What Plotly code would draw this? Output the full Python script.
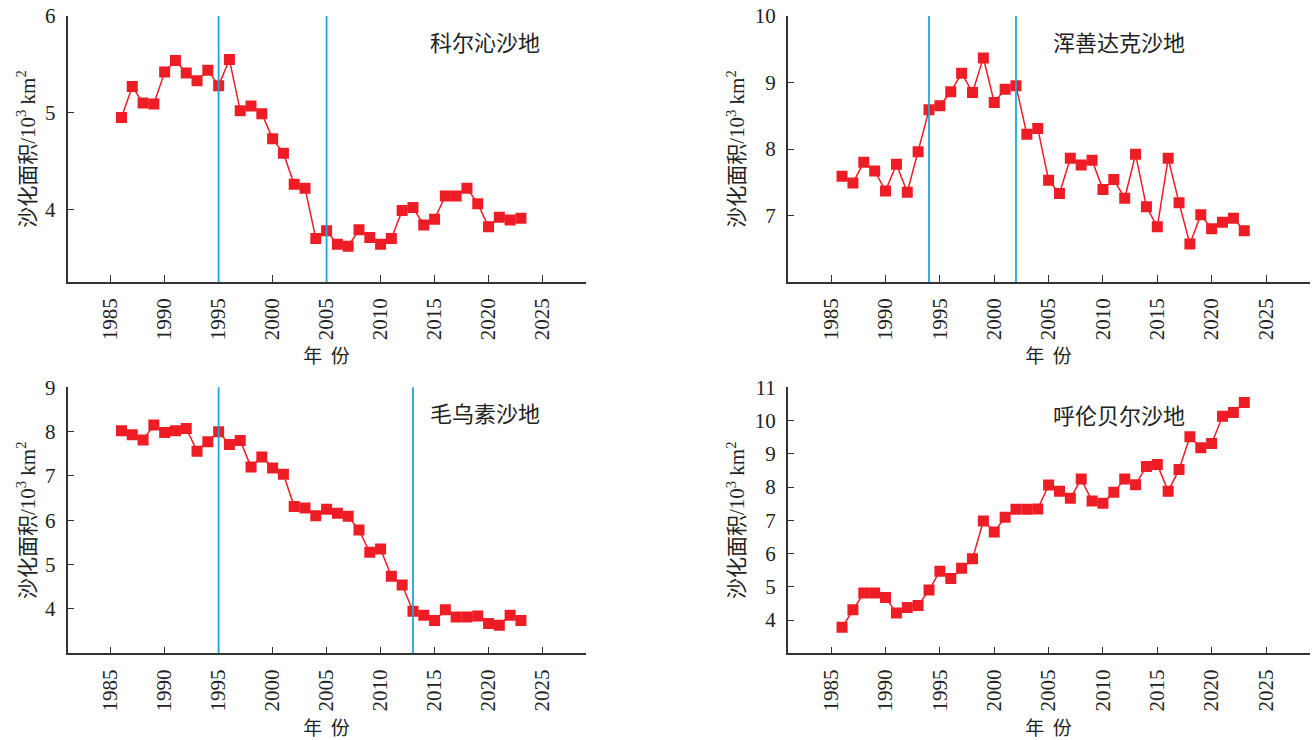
import plotly.graph_objects as go

years = [1986, 1987, 1988, 1989, 1990, 1991, 1992, 1993, 1994, 1995,
         1996, 1997, 1998, 1999, 2000, 2001, 2002, 2003, 2004, 2005,
         2006, 2007, 2008, 2009, 2010, 2011, 2012, 2013, 2014, 2015,
         2016, 2017, 2018, 2019, 2020, 2021, 2022, 2023]

horqin = [4.95, 5.27, 5.10, 5.09, 5.42, 5.54, 5.41, 5.33, 5.44, 5.28,
          5.55, 5.02, 5.07, 4.99, 4.73, 4.58, 4.26, 4.22, 3.70, 3.78,
          3.64, 3.62, 3.79, 3.71, 3.64, 3.70, 3.99, 4.02, 3.84, 3.90,
          4.14, 4.14, 4.22, 4.06, 3.82, 3.92, 3.89, 3.91]

otindag = [7.59, 7.49, 7.80, 7.67, 7.37, 7.77, 7.35, 7.96, 8.59, 8.65,
           8.86, 9.14, 8.85, 9.37, 8.70, 8.90, 8.95, 8.22, 8.31, 7.53,
           7.33, 7.86, 7.76, 7.83, 7.39, 7.54, 7.26, 7.92, 7.13, 6.83,
           7.86, 7.19, 6.57, 7.01, 6.80, 6.90, 6.96, 6.77]

muus = [8.02, 7.93, 7.81, 8.15, 7.98, 8.02, 8.07, 7.56, 7.77, 8.00,
        7.71, 7.80, 7.20, 7.43, 7.18, 7.04, 6.31, 6.28, 6.10, 6.25,
        6.16, 6.09, 5.78, 5.28, 5.35, 4.74, 4.54, 3.95, 3.86, 3.74,
        3.98, 3.82, 3.82, 3.84, 3.67, 3.63, 3.86, 3.74]

hulunbuir = [3.78, 4.31, 4.81, 4.81, 4.68, 4.21, 4.38, 4.44, 4.90, 5.47,
             5.25, 5.56, 5.84, 6.98, 6.65, 7.09, 7.33, 7.33, 7.34, 8.06,
             7.87, 7.66, 8.24, 7.58, 7.51, 7.84, 8.24, 8.07, 8.62, 8.68,
             7.87, 8.53, 9.51, 9.18, 9.31, 10.13, 10.24, 10.54]

names = ["科尔沁沙地", "浑善达克沙地", "毛乌素沙地", "呼伦贝尔沙地"]
breaks_horqin = [1995, 2005]
breaks_otindag = [1994, 2002]
breaks_muus = [1995, 2013]
breaks_hulunbuir = []

x_ticks = [1985, 1990, 1995, 2000, 2005, 2010, 2015, 2020, 2025]
y_ticks_horqin = [4, 5, 6]
y_ticks_otindag = [7, 8, 9, 10]
y_ticks_muus = [4, 5, 6, 7, 8, 9]
y_ticks_hulunbuir = [4, 5, 6, 7, 8, 9, 10, 11]

series = [horqin, otindag, muus, hulunbuir]
breaks = [breaks_horqin, breaks_otindag, breaks_muus, breaks_hulunbuir]
yticks = [y_ticks_horqin, y_ticks_otindag, y_ticks_muus, y_ticks_hulunbuir]
yranges = [[3.25, 6], [6, 10], [3, 9], [3, 11]]

W, H = 1314, 740


def px_x(a, b):
    return [a / W, b / W]


def px_y(top, bottom):
    return [1 - bottom / H, 1 - top / H]


xdoms = [px_x(67.5, 585.7), px_x(787.7, 1309.5)]
ydoms = [px_y(16, 282), px_y(387.3, 653.3)]
label_pos = [(0.806, 0.905), (0.635, 0.905), (0.806, 0.907), (0.635, 0.898)]

RED = "#EE1C25"
BLUE = "#1AA7E0"
AX = "#333333"
SERIF = "Liberation Serif, Noto Sans CJK SC, serif"
CJK = "Noto Sans CJK SC, sans-serif"

fig = go.Figure()
layout = dict(
    template="none",
    width=W, height=H,
    margin=dict(l=0, r=0, t=0, b=0, pad=0),
    paper_bgcolor="white", plot_bgcolor="white",
    showlegend=False,
    shapes=[], annotations=[],
)

for i in range(4):
    r, c = divmod(i, 2)
    sfx = "" if i == 0 else str(i + 1)
    xa, ya = "x" + sfx, "y" + sfx
    fig.add_trace(go.Scatter(
        x=years, y=series[i], xaxis=xa, yaxis=ya, mode="lines+markers",
        line=dict(color=RED, width=1.5),
        marker=dict(symbol="square", size=11, color=RED),
    ))
    layout["xaxis" + sfx] = dict(
        domain=xdoms[c], anchor=ya, range=[1981, 2029], automargin=False,
        tickmode="array", tickvals=x_ticks, ticktext=[str(v) for v in x_ticks],
        tickangle=-90, ticks="inside", ticklen=7, tickwidth=1.3, tickcolor=AX,
        showline=True, linecolor=AX, linewidth=1.5, showgrid=False, zeroline=False,
        tickfont=dict(family=SERIF, size=21, color="#222"),
        ticklabelstandoff=6, ticklabeloverflow="allow",
        title=dict(text="年  份", font=dict(family=CJK, size=19, color="#222"), standoff=11),
    )
    layout["yaxis" + sfx] = dict(
        domain=ydoms[r], anchor=xa, range=yranges[i], automargin=False,
        tickmode="array", tickvals=yticks[i], ticktext=[str(v) for v in yticks[i]],
        ticks="inside", ticklen=7, tickwidth=1.3, tickcolor=AX,
        showline=True, linecolor=AX, linewidth=1.5, showgrid=False, zeroline=False,
        tickfont=dict(family=SERIF, size=21, color="#222"),
        ticklabelstandoff=6, ticklabeloverflow="allow",
        title=dict(text="沙化面积/10<sup>3</sup> km<sup>2</sup>",
                   font=dict(family=SERIF, size=21, color="#222"), standoff=4),
    )
    for b in breaks[i]:
        layout["shapes"].append(dict(
            type="line", xref=xa, yref=ya + " domain", x0=b, x1=b, y0=0, y1=1,
            line=dict(color=BLUE, width=1.8),
        ))
    lx, ly = label_pos[i]
    layout["annotations"].append(dict(
        text=names[i], xref=xa + " domain", yref=ya + " domain", x=lx, y=ly,
        xanchor="center", yanchor="middle", showarrow=False,
        font=dict(family=CJK, size=22, color="#222"),
    ))

fig.update_layout(**layout)
fig.write_html("out.html", config={"displayModeBar": False},
               post_script="document.body.style.margin='0';")
